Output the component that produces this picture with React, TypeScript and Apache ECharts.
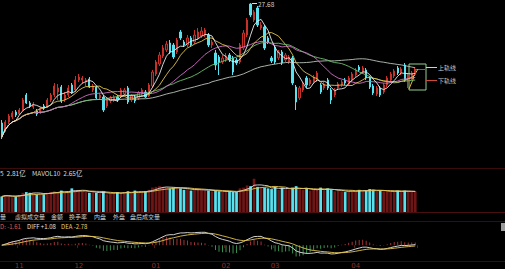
import React, { useEffect, useRef } from 'react';
import * as echarts from 'echarts';

const months = ['10', '11', '12', '01', '02', '03', '04'];
const monthDays = [5, 17, 22, 20, 14, 23, 18];

const openP = [
  15.7, 15.0, 15.8, 16.3, 16.8, 16.6, 17.0, 18.5, 17.7, 17.3,
  16.9, 16.7, 17.4, 17.3, 18.0, 18.5, 18.8, 19.3, 18.0, 18.5,
  19.5, 19.0, 20.0, 20.0, 19.8, 20.1, 19.0, 19.3, 18.2, 18.3,
  17.4, 17.9, 18.0, 18.3, 18.4, 18.6, 19.2, 18.0, 18.3, 18.2,
  18.6, 18.8, 18.4, 19.4, 20.6, 21.6, 22.4, 23.0, 23.7, 23.5,
  22.8, 24.8, 23.8, 23.5, 24.2, 23.8, 24.2, 24.4, 24.5, 24.5,
  23.5, 22.7, 22.3, 21.8, 22.0, 22.5, 22.2, 22.0, 21.8, 23.2,
  24.5, 27.6, 26.0, 27.2, 25.2, 25.3, 24.2, 22.2, 23.3, 22.2,
  22.8, 22.0, 21.8, 22.2, 19.3, 18.2, 19.0, 20.2, 19.6, 19.8,
  20.0, 19.5, 19.2, 20.0, 19.0, 18.5, 19.2, 19.5, 20.0, 19.6,
  20.0, 20.5, 21.3, 20.8, 21.0, 20.2, 19.4, 18.6, 19.2, 18.8,
  19.5, 20.0, 20.4, 21.2, 20.7, 21.5, 19.8, 20.2, 20.6,
];
const closeP = [
  14.3, 15.8, 16.4, 16.7, 16.5, 17.0, 18.0, 17.7, 17.4, 17.6,
  16.6, 17.2, 17.2, 18.0, 18.5, 19.4, 19.2, 17.9, 18.5, 19.2,
  18.7, 20.0, 20.3, 20.2, 20.0, 19.3, 19.4, 18.2, 18.5, 17.0,
  18.0, 18.2, 18.3, 18.0, 19.0, 19.0, 17.8, 18.4, 17.9, 18.7,
  19.0, 18.3, 19.5, 20.8, 21.8, 22.5, 23.2, 23.6, 22.8, 22.3,
  24.0, 24.2, 23.5, 24.2, 23.5, 24.5, 24.8, 24.9, 25.0, 23.5,
  23.8, 21.5, 21.8, 22.2, 22.4, 22.0, 20.8, 21.7, 23.5, 24.7,
  26.0, 26.5, 26.8, 25.5, 25.5, 23.2, 23.8, 21.9, 21.8, 22.8,
  21.7, 22.5, 22.3, 19.7, 17.8, 19.2, 19.5, 19.5, 20.0, 20.3,
  20.7, 18.8, 19.6, 19.2, 18.0, 19.0, 19.6, 19.8, 19.7, 20.2,
  20.6, 21.0, 21.0, 21.2, 20.2, 19.3, 18.7, 19.2, 18.5, 19.5,
  20.2, 20.6, 20.9, 20.7, 21.1, 20.0, 20.5, 20.7, 21.0,
];
const lowP = [
  14.1, 14.8, 15.6, 16.1, 16.3, 16.5, 16.9, 17.6, 17.2, 17.1,
  16.4, 16.6, 17.0, 17.2, 17.8, 18.3, 18.0, 17.7, 17.8, 18.3,
  18.6, 18.8, 19.8, 19.6, 19.4, 19.2, 18.8, 18.1, 18.0, 16.8,
  17.2, 17.7, 17.8, 17.8, 18.2, 18.4, 17.6, 17.8, 17.7, 18.0,
  18.4, 18.2, 18.3, 19.2, 20.4, 21.4, 22.2, 22.8, 22.6, 22.1,
  22.6, 24.0, 23.3, 23.3, 23.3, 23.6, 24.0, 24.2, 24.3, 23.3,
  23.2, 21.0, 20.5, 21.6, 21.8, 21.8, 20.5, 21.5, 21.6, 23.0,
  24.3, 26.3, 25.8, 25.3, 25.0, 23.0, 23.6, 21.7, 21.6, 22.0,
  21.5, 21.8, 21.6, 19.5, 17.0, 18.0, 18.8, 19.2, 19.4, 19.6,
  19.8, 18.6, 19.0, 19.0, 17.6, 18.3, 19.0, 19.3, 19.5, 19.4,
  19.8, 20.3, 20.8, 20.6, 20.0, 19.1, 18.5, 18.4, 18.3, 18.6,
  19.3, 19.8, 20.2, 20.5, 20.5, 19.8, 19.2, 20.0, 20.4,
];
const highP = [
  16.0, 16.0, 16.6, 16.9, 17.0, 17.2, 18.2, 18.7, 17.9, 17.8,
  17.1, 17.3, 17.6, 18.2, 18.7, 19.7, 19.6, 19.5, 18.8, 19.5,
  19.7, 20.4, 20.6, 20.4, 20.2, 20.3, 19.6, 19.4, 18.7, 18.5,
  18.2, 18.4, 18.5, 18.5, 19.2, 19.2, 19.4, 18.6, 18.5, 18.9,
  19.2, 19.0, 19.7, 21.0, 22.0, 22.8, 23.5, 23.9, 24.0, 23.7,
  24.2, 25.0, 24.0, 24.5, 24.4, 25.0, 25.2, 25.3, 25.2, 24.7,
  24.0, 23.0, 22.5, 22.5, 22.7, 22.7, 22.4, 22.2, 23.7, 25.0,
  26.2, 27.68, 27.0, 27.4, 25.8, 25.5, 24.4, 22.4, 23.5, 23.0,
  23.0, 22.7, 22.5, 22.4, 19.5, 19.4, 19.8, 20.4, 20.2, 20.5,
  20.9, 19.7, 19.8, 20.2, 19.2, 19.2, 19.8, 20.0, 20.2, 20.4,
  20.8, 21.2, 21.5, 21.4, 21.2, 20.4, 19.6, 19.4, 19.4, 19.7,
  20.4, 20.8, 21.1, 21.4, 21.3, 21.7, 20.7, 20.9, 21.2,
];
// volume, 亿
const volume = [
  2.1, 2.3, 2.2, 2.0, 2.1, 2.3, 2.6, 2.7, 2.6, 2.6,
  2.4, 2.5, 2.4, 2.6, 2.7, 2.8, 2.7, 2.9, 2.6, 2.8,
  3.2, 2.9, 3.0, 2.8, 2.7, 2.6, 2.7, 2.6, 2.5, 2.8,
  2.4, 2.5, 2.6, 2.7, 2.5, 2.7, 2.8, 2.6, 2.9, 2.7,
  2.7, 2.8, 3.0, 3.3, 3.4, 3.5, 3.4, 3.3, 3.2, 3.3,
  3.3, 3.2, 3.0, 3.1, 2.9, 3.0, 3.1, 3.0, 2.9, 2.9,
  2.8, 2.9, 2.8, 2.7, 2.7, 2.8, 2.7, 2.7, 3.2, 3.3,
  3.6, 3.5, 4.5, 3.4, 3.3, 3.3, 3.2, 3.1, 3.4, 3.0,
  3.3, 3.1, 3.0, 3.3, 3.5, 3.1, 3.0, 3.2, 2.9, 3.0,
  3.0, 3.3, 2.9, 3.2, 3.0, 2.8, 2.9, 2.8, 2.7, 2.8,
  2.9, 2.8, 3.0, 2.9, 2.9, 3.1, 3.0, 2.8, 2.9, 2.8,
  2.8, 2.7, 2.8, 2.9, 2.7, 2.9, 2.8, 2.7, 2.8,
];

const peakLabel = '27.68';
const volLegend = ['5  2.81亿', 'MAVOL10  2.65亿'];
const tabLabels = ['量', '虚拟成交量', '金额', '换手率', '内盘', '外盘', '盘后成交量'];
const macdLegend = ['D: -1.61', 'DIFF +1.08', 'DEA -2.78'];
const bandLabels = ['上轨线', '下轨线'];

const RED = '#c8302a';
const CYAN = '#58e2f0';

function movingAvg(arr: number[], n: number) {
  return arr.map((_, i) => {
    const s = Math.max(0, i - n + 1);
    let sum = 0;
    for (let k = s; k <= i; k++) sum += arr[k];
    return +(sum / (i - s + 1)).toFixed(3);
  });
}
function ema(arr: number[], n: number) {
  const a = 2 / (n + 1);
  const out: number[] = [];
  arr.forEach((v, i) => out.push(i === 0 ? v : a * v + (1 - a) * out[i - 1]));
  return out;
}

export default function App() {
  const ref = useRef<HTMLDivElement>(null);
  useEffect(() => {
    document.body.style.margin = '0';
    document.body.style.background = '#000';
    const chart = echarts.init(ref.current!, null, { renderer: 'svg' });

    const categories: string[] = [];
    const monthStart = new Set<number>();
    months.forEach((m, k) => {
      if (k > 0) monthStart.add(categories.length);
      for (let d = 1; d <= monthDays[k]; d++) categories.push(m + '-' + d);
    });

    const candles = openP.map((o, i) => [o, closeP[i], lowP[i], highP[i]]);
    const volData = volume.map((v, i) => ({
      value: v,
      itemStyle: { color: closeP[i] >= openP[i] ? '#6e1616' : CYAN },
    }));
    const e12 = ema(closeP, 12);
    const e26 = ema(closeP, 26);
    const diff = e12.map((v, i) => +(v - e26[i]).toFixed(3));
    const dea = ema(diff, 9).map((v) => +v.toFixed(3));
    const hist = diff.map((d, i) => {
      const v = +(2 * (d - dea[i])).toFixed(3);
      return { value: v, itemStyle: { color: v >= 0 ? '#a03434' : '#3a9050' } };
    });

    const L = 0;
    const W = 417;
    const maLine = (name: string, data: number[], color: string, xi: number, yi: number) => ({
      type: 'line', name, data, xAxisIndex: xi, yAxisIndex: yi, symbol: 'none', smooth: false,
      lineStyle: { color, width: 1, opacity: 0.9 }, silent: true,
    });
    const hiddenX = (gi: number, showLabel = false) => ({
      type: 'category', gridIndex: gi, data: categories, boundaryGap: true,
      axisLine: { show: false }, splitLine: { show: false },
      axisTick: showLabel
        ? { show: true, interval: (i: number) => monthStart.has(i), length: 3, lineStyle: { color: '#5a1a1a' } }
        : { show: false },
      axisLabel: showLabel
        ? {
            show: true, interval: (i: number) => monthStart.has(i),
            formatter: (v: string) => v.split('-')[0], color: '#8a3030', fontSize: 7, margin: 5,
            fontFamily: 'DejaVu Sans',
          }
        : { show: false },
    });
    const hiddenY = (gi: number, extra: any = {}) => ({
      type: 'value', gridIndex: gi, axisLine: { show: false }, axisTick: { show: false },
      axisLabel: { show: false }, splitLine: { show: false }, ...extra,
    });

    const txt = (x: number, y: number, text: string, fill: string, size = 7) => ({
      type: 'text', x, y, silent: true,
      style: { text, fill, fontSize: size, fontFamily: 'Noto Sans CJK SC', textVerticalAlign: 'top' },
    });
    const hline = (y: number, color = '#3a0c0c') => ({
      type: 'line', silent: true, shape: { x1: 0, y1: y, x2: 505, y2: y }, style: { stroke: color, lineWidth: 1 },
    });

    const tabX = [0, 15, 51, 69, 94, 113, 130];

    const option: any = {
      animation: false,
      backgroundColor: '#000',
      grid: [
        { left: L, width: W, top: 0, height: 150 },
        { left: L, width: W, top: 178, height: 34 },
        { left: L, width: W, top: 231, height: 26 },
      ],
      xAxis: [hiddenX(0), hiddenX(1), hiddenX(2, true)],
      yAxis: [
        hiddenY(0, { min: 13, max: 28 }),
        hiddenY(1, { min: 0, max: 4.6 }),
        hiddenY(2, { min: (v: any) => v.min * 1.05, max: (v: any) => v.max * 1.1 }),
      ],
      series: [
        {
          type: 'candlestick', data: candles, xAxisIndex: 0, yAxisIndex: 0, barMaxWidth: 3,
          itemStyle: { color: '#3a0808', color0: CYAN, borderColor: RED, borderColor0: CYAN, borderWidth: 1 },
          silent: true,
        },
        maLine('MA60', movingAvg(closeP, 60), '#b9c3b9', 0, 0),
        maLine('MA30', movingAvg(closeP, 30), '#6cbf6c', 0, 0),
        maLine('MA20', movingAvg(closeP, 20), '#cf6fc6', 0, 0),
        maLine('MA10', movingAvg(closeP, 10), '#e3c44c', 0, 0),
        maLine('MA5', movingAvg(closeP, 5), '#e8e8e8', 0, 0),
        { type: 'bar', data: volData, xAxisIndex: 1, yAxisIndex: 1, barWidth: '78%', silent: true },
        maLine('MAVOL5', movingAvg(volume, 5), '#e0e0e0', 1, 1),
        maLine('MAVOL10', movingAvg(volume, 10), '#e3c44c', 1, 1),
        { type: 'bar', data: hist, xAxisIndex: 2, yAxisIndex: 2, barWidth: 1, silent: true },
        maLine('DIFF', diff, '#e6e6e6', 2, 2),
        maLine('DEA', dea, '#e3c44c', 2, 2),
      ],
      graphic: [
        hline(168.5), hline(212.5, '#4a1010'), hline(221.5), hline(261.5),
        // peak label
        { type: 'line', silent: true, shape: { x1: 252, y1: 3.5, x2: 257, y2: 3.5 }, style: { stroke: '#ddd', lineWidth: 1 } },
        txt(258, 0.5, peakLabel, '#cfcfcf', 6.5),
        // volume legend
        txt(0, 170, volLegend[0], '#d8d8d8', 6.5),
        txt(32, 170, volLegend[1], '#d8d8d8', 6.5),
        // tabs
        ...tabLabels.map((t, k) => txt(tabX[k], 213.5, t, '#d0d0d0', 6)),
        // macd legend
        txt(0, 223, macdLegend[0], '#e05a4a', 6),
        txt(27, 223, macdLegend[1], '#e0e0e0', 6),
        txt(61, 223, macdLegend[2], '#e0d070', 6),
        // band annotation
        { type: 'rect', silent: true, shape: { x: 409, y: 64, width: 17, height: 26 }, style: { fill: 'none', stroke: '#8fd08f', lineWidth: 1 } },
        { type: 'line', silent: true, shape: { x1: 414, y1: 69.5, x2: 425, y2: 69.5 }, style: { stroke: '#d83a2a', lineWidth: 1 } },
        { type: 'polyline', silent: true, shape: { points: [[409, 89], [414, 77], [412, 79], [418, 69]] }, style: { fill: 'none', stroke: '#f0b030', lineWidth: 1 } },
        { type: 'line', silent: true, shape: { x1: 426, y1: 67.5, x2: 437, y2: 67.5 }, style: { stroke: '#cfcfcf', lineWidth: 1 } },
        { type: 'line', silent: true, shape: { x1: 426, y1: 80.5, x2: 437, y2: 80.5 }, style: { stroke: '#d04a3a', lineWidth: 1 } },
        txt(438, 64, bandLabels[0], '#c8c8c8', 6),
        txt(438, 77, bandLabels[1], '#c8c8c8', 6),
        { type: 'rect', silent: true, shape: { x: 501, y: 223, width: 4, height: 8 }, style: { fill: '#9a9a9a' } },
      ],
    };
    chart.setOption(option);
    return () => chart.dispose();
  }, []);
  return <div ref={ref} style={{ width: 505, height: 269, background: '#000' }} />;
}
